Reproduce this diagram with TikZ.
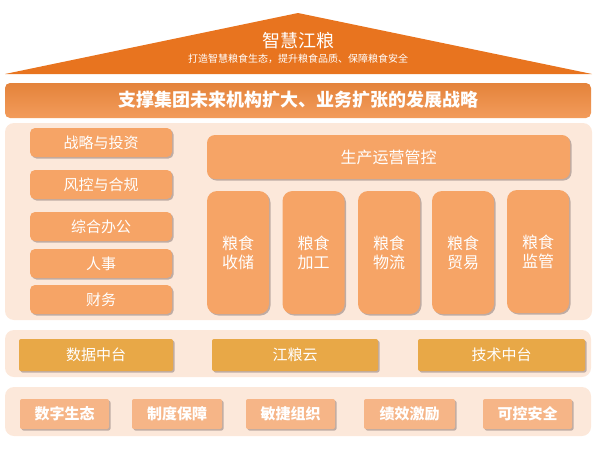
\documentclass[tikz,border=0pt]{standalone}
\usepackage{fontspec}
\setmainfont{Noto Sans CJK SC}
\usepackage{tikz}
\usepackage{xcolor}
\usetikzlibrary{shadows}
\definecolor{roofc}{HTML}{E8741F}
\definecolor{barc}{HTML}{F08A3E}
\definecolor{panelc}{HTML}{FCE8DA}
\definecolor{unitc}{HTML}{F6A466}
\definecolor{platc}{HTML}{E8A847}
\definecolor{basec}{HTML}{F6B587}
\definecolor{shadc}{HTML}{8E7C78}
\tikzstyle{panel} = [fill=panelc, rounded corners=9pt]
\tikzstyle{boxed} = [inner sep=0pt, text=white, drop shadow={shadow xshift=1.5pt, shadow yshift=-1.5pt, fill=shadc, opacity=0.55}]
\tikzstyle{dept} = [boxed, fill=unitc, rounded corners=5pt, minimum width=142pt, minimum height=29pt, font=\fontsize{15}{17}\selectfont]
\tikzstyle{biz} = [boxed, fill=unitc, rounded corners=10pt, minimum width=62pt, minimum height=123pt, align=center, font=\fontsize{16}{19}\selectfont]
\tikzstyle{plat} = [boxed, fill=platc, rounded corners=2pt, minimum width=155pt, minimum height=32pt, font=\fontsize{15}{17}\selectfont]
\tikzstyle{base} = [boxed, fill=basec, rounded corners=2pt, minimum width=90pt, minimum height=30pt, font=\bfseries\fontsize{15}{17}\selectfont]

\begin{document}
\begin{tikzpicture}[x=1pt, y=-1pt]
	\useasboundingbox (0,0) rectangle (600,450);
	% roof
	\fill[roofc] (298,13) -- (592,74) -- (5,74) -- cycle;
	\node[text=white, font=\fontsize{18}{20}\selectfont] (title) at (298,41) {智慧江粮};
	\node[text=white, font=\fontsize{10}{12}\selectfont] (sub) at (298,58.5) {打造智慧粮食生态，提升粮食品质、保障粮食安全};
	% strategy bar
	\shade[top color=barc!95!black, bottom color=barc!85!white, rounded corners=5pt] (5,83) rectangle (591,118);
	\node[text=white, font=\bfseries\fontsize{18}{20}\selectfont] (goal) at (298,100) {支撑集团未来机构扩大、业务扩张的发展战略};
	% panels
	\fill[panel] (5,123) rectangle (592,320);
	\fill[panel] (5,330) rectangle (591,377);
	\fill[panel] (5,387) rectangle (591,436);
	% left column
	\node[dept] (strat) at (101,142.5) {战略与投资};
	\node[dept] (risk) at (101,184.5) {风控与合规};
	\node[dept] (office) at (101,226.5) {综合办公};
	\node[dept] (hr) at (101,263.5) {人事};
	\node[dept] (fin) at (101,299.5) {财务};
	% production
	\node[dept, rounded corners=8pt, minimum width=363pt, minimum height=44pt, font=\fontsize{16}{18}\selectfont] (prod) at (388.5,157) {生产运营管控};
	\node[biz] (store) at (238,252.5) {粮食\\收储};
	\node[biz] (proc) at (313.5,252.5) {粮食\\加工};
	\node[biz] (logi) at (389,252.5) {粮食\\物流};
	\node[biz] (trade) at (463,252.5) {粮食\\贸易};
	\node[biz] (super) at (538,251.5) {粮食\\监管};
	% platforms
	\node[plat, minimum width=154pt] (data) at (96,355) {数据中台};
	\node[plat, minimum width=166pt] (cloud) at (295,355) {江粮云};
	\node[plat, minimum width=167pt] (tech) at (501.5,355) {技术中台};
	% foundations
	\node[base, minimum width=89pt] (eco) at (64.5,414) {数字生态};
	\node[base] (rule) at (177,414) {制度保障};
	\node[base, minimum width=89pt] (agile) at (290.5,414) {敏捷组织};
	\node[base, minimum width=91pt] (perf) at (409.5,414) {绩效激励};
	\node[base, minimum width=89pt] (safe) at (527.5,414) {可控安全};
\end{tikzpicture}
\end{document}
